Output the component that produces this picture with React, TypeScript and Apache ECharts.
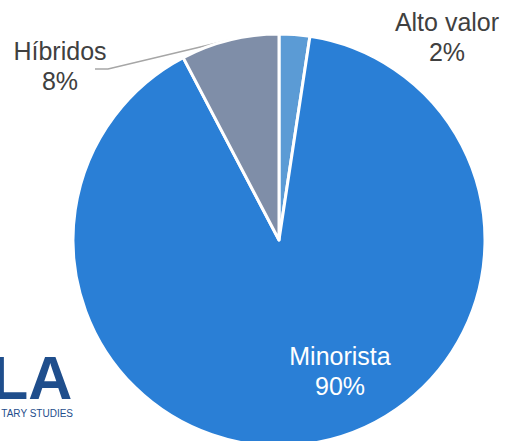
import React, { useEffect, useRef } from "react";
import * as echarts from "echarts";

const categories = ["Alto valor", "Minorista", "Híbridos"];
const values = [2.4, 89.9, 7.7];
const colors = ["#5b9bd5", "#2a7fd6", "#7f8ea8"];
const labelColors = ["#404040", "#ffffff", "#404040"];
const labelX = [447, 340, 60];
const labelY = [37, 371, 65.5];

export default function App() {
  const ref = useRef<HTMLDivElement>(null);
  useEffect(() => {
    if (!ref.current) return;
    const chart = echarts.init(ref.current, undefined, { renderer: "svg" });
    chart.setOption({
      animation: false,
      backgroundColor: "#ffffff",
      graphic: [
        {
          type: "text",
          z: -1,
          x: -9,
          y: 378,
          style: {
            text: "LA",
            fontFamily: "Liberation Sans, Arial, sans-serif",
            fontWeight: "bold",
            fontSize: 61,
            lineHeight: 40,
            fill: "#1f4e8c",
            verticalAlign: "middle",
          },
        },
        {
          type: "text",
          z: -1,
          x: 73,
          y: 418,
          style: {
            text: "TARY STUDIES",
            fontFamily: "Liberation Sans, Arial, sans-serif",
            fontSize: 10,
            fill: "#1f4e8c",
            align: "right",
            verticalAlign: "bottom",
          },
        },
      ],
      series: [
        {
          type: "pie",
          center: [279, 240],
          radius: 206,
          startAngle: 90,
          clockwise: true,
          percentPrecision: 0,
          itemStyle: { borderColor: "#ffffff", borderWidth: 3 },
          label: {
            show: true,
            position: "outside",
            formatter: "{b}\n{d}%",
            fontFamily: "Liberation Sans, Arial, sans-serif",
            fontSize: 25,
            lineHeight: 30,
            align: "center",
          },
          labelLine: {
            show: true,
            lineStyle: { color: "#a6a6a6", width: 1.5 },
          },
          labelLayout: (params: any) => {
            const i = params.dataIndex;
            const res: any = {
              x: labelX[i],
              y: labelY[i],
              align: "center",
              verticalAlign: "middle",
            };
            if (i === 2 && params.labelLinePoints) {
              const p0 = params.labelLinePoints[0];
              res.labelLinePoints = [
                [p0[0], p0[1]],
                [labelX[i] + 48, labelY[i] + 3.5],
                [labelX[i] + 35, labelY[i] + 3.5],
              ];
            }
            return res;
          },
          data: categories.map((name, i) => ({
            name,
            value: values[i],
            itemStyle: { color: colors[i] },
            label: {
              color: labelColors[i],
              position: i === 1 ? "inside" : "outside",
            },
            labelLine: { show: i === 2 },
          })),
        },
      ],
    });
    return () => chart.dispose();
  }, []);
  return (
    <div
      ref={ref}
      style={{ position: "fixed", left: 0, top: 0, width: 505, height: 441 }}
    />
  );
}
